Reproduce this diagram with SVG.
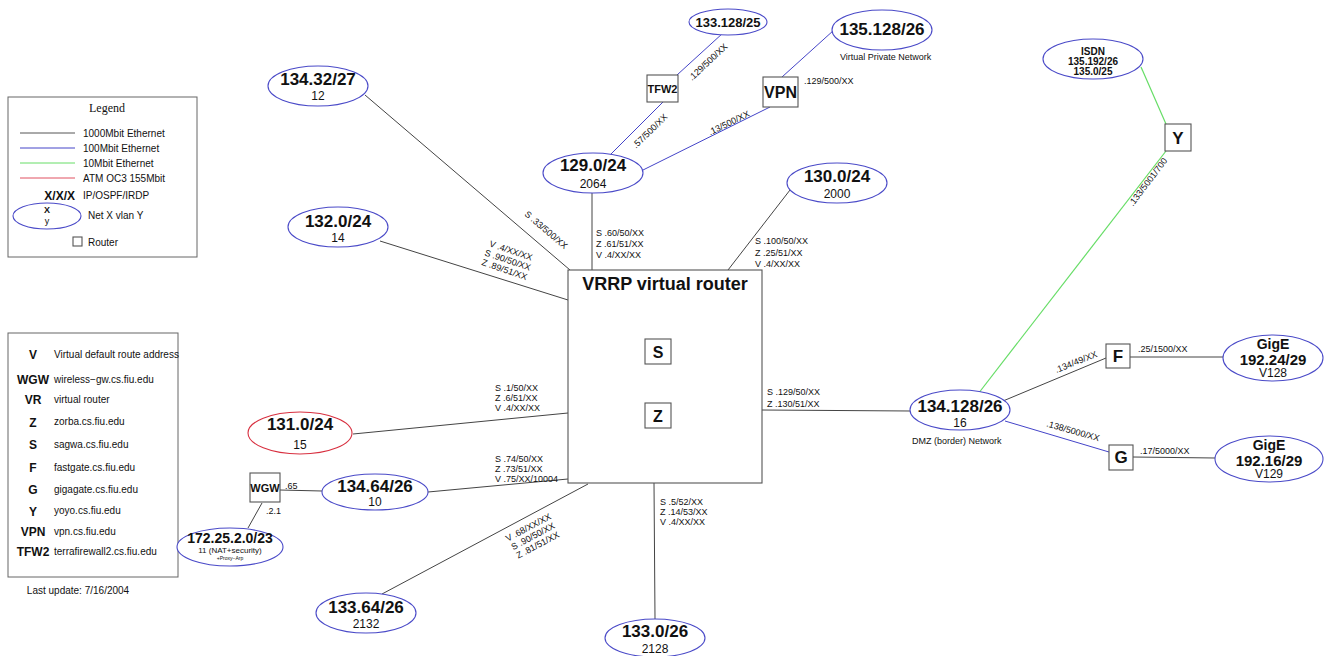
<svg xmlns="http://www.w3.org/2000/svg" width="1337" height="656" viewBox="0 0 1337 656">
<style>
text{font-family:"Liberation Sans",Arial,sans-serif;fill:#111}
.b{font-weight:bold}
.big{font-size:17px;font-weight:bold;text-anchor:middle}
.sub{font-size:12px;text-anchor:middle}
.lbl{font-size:9px}
.lg{font-size:10px}
.net{fill:#fff;stroke:#4a4ac8;stroke-width:1.1}
.red{fill:#fff;stroke:#d83040;stroke-width:1.1}
.rt{fill:#fff;stroke:#555;stroke-width:1.1}
.g{stroke:#444;stroke-width:1;fill:none}
.bl{stroke:#4444c8;stroke-width:1;fill:none}
.gr{stroke:#66dd66;stroke-width:1.2;fill:none}
.leg{fill:#fff;stroke:#666;stroke-width:1}
</style>
<rect width="1337" height="656" fill="#fff"/>
<g id="connectors">
<line class="g" x1="365" y1="95" x2="570" y2="270"/>
<line class="g" x1="380" y1="241" x2="568" y2="300"/>
<line class="g" x1="592" y1="192" x2="592" y2="270"/>
<line class="g" x1="790" y1="190" x2="728" y2="270"/>
<line class="bl" x1="723" y1="33" x2="677" y2="75"/>
<line class="bl" x1="663" y1="102" x2="610" y2="155"/>
<line class="bl" x1="782" y1="77" x2="834" y2="30"/>
<line class="bl" x1="770" y1="107" x2="643" y2="170"/>
<line class="gr" x1="1141" y1="67" x2="1166" y2="124"/>
<line class="gr" x1="1166" y1="151" x2="978" y2="394"/>
<line class="g" x1="762" y1="410" x2="911" y2="411"/>
<line class="g" x1="1003" y1="401" x2="1106" y2="358"/>
<line class="g" x1="1130" y1="357" x2="1223" y2="357"/>
<line class="bl" x1="1005" y1="421" x2="1109" y2="452"/>
<line class="g" x1="1133" y1="457" x2="1215" y2="458"/>
<line class="g" x1="353" y1="434" x2="568" y2="413"/>
<line class="g" x1="280" y1="490" x2="322" y2="491"/>
<line class="g" x1="428" y1="492" x2="568" y2="479"/>
<line class="g" x1="262" y1="503" x2="248" y2="528"/>
<line class="g" x1="382" y1="594" x2="588" y2="484"/>
<line class="g" x1="654" y1="483" x2="655" y2="619"/>
<text class="lbl" transform="translate(546,230) rotate(40.5)" text-anchor="middle" dy="3">S .33/500/XX</text>
<g transform="translate(507,262) rotate(19)">
<text class="lbl" text-anchor="middle" y="-9">V .4/XX/XX</text>
<text class="lbl" text-anchor="middle" y="1">S .90/50/XX</text>
<text class="lbl" text-anchor="middle" y="11">Z .89/51/XX</text>
</g>
<text class="lbl" x="596" y="236">S .60/50/XX</text>
<text class="lbl" x="596" y="247">Z .61/51/XX</text>
<text class="lbl" x="596" y="258">V .4/XX/XX</text>
<text class="lbl" x="755" y="244">S .100/50/XX</text>
<text class="lbl" x="755" y="256">Z .25/51/XX</text>
<text class="lbl" x="755" y="267">V .4/XX/XX</text>
<text class="lbl" transform="translate(708,62) rotate(-43)" text-anchor="middle" dy="3">.129/500/XX</text>
<text class="lbl" transform="translate(650,131) rotate(-44)" text-anchor="middle" dy="3">.57/500/XX</text>
<text class="lbl" transform="translate(729,123) rotate(-26)" text-anchor="middle" dy="3">.13/500/XX</text>
<text class="lbl" x="804" y="84">.129/500/XX</text>
<text class="lbl" transform="translate(1148,182) rotate(-53)" text-anchor="middle" dy="3">.133/5001/700</text>
<text class="lbl" x="767" y="395">S .129/50/XX</text>
<text class="lbl" x="767" y="407">Z .130/51/XX</text>
<text class="lbl" transform="translate(1076,362) rotate(-22)" text-anchor="middle" dy="3">.134/49/XX</text>
<text class="lbl" x="1138" y="352">.25/1500/XX</text>
<text class="lbl" transform="translate(1073,431) rotate(16)" text-anchor="middle" dy="3">.138/5000/XX</text>
<text class="lbl" x="1140" y="454">.17/5000/XX</text>
<text class="lbl" x="495" y="391">S .1/50/XX</text>
<text class="lbl" x="495" y="401">Z .6/51/XX</text>
<text class="lbl" x="495" y="411">V .4/XX/XX</text>
<text class="lbl" x="495" y="462">S .74/50/XX</text>
<text class="lbl" x="495" y="472">Z .73/51/XX</text>
<text class="lbl" x="495" y="482">V .75/XX/10004</text>
<text class="lbl" x="285" y="489">.65</text>
<text class="lbl" x="266" y="514">.2.1</text>
<g transform="translate(534,538) rotate(-28)">
<text class="lbl" text-anchor="middle" y="-9">V .68/XX/XX</text>
<text class="lbl" text-anchor="middle" y="1">S .90/50/XX</text>
<text class="lbl" text-anchor="middle" y="11">Z .81/51/XX</text>
</g>
<text class="lbl" x="660" y="505">S .5/52/XX</text>
<text class="lbl" x="660" y="515">Z .14/53/XX</text>
<text class="lbl" x="660" y="525">V .4/XX/XX</text>
</g>
<g id="legend">
<rect class="leg" x="8" y="97" width="189" height="160"/>
<text x="107" y="112" text-anchor="middle" style="font-family:'Liberation Serif',serif;font-size:12px">Legend</text>
<line x1="20" y1="133" x2="75" y2="133" stroke="#555"/>
<line x1="20" y1="148" x2="75" y2="148" stroke="#4444c8"/>
<line x1="20" y1="163" x2="75" y2="163" stroke="#66dd66"/>
<line x1="20" y1="178" x2="75" y2="178" stroke="#e05060"/>
<text class="lg" x="83" y="137">1000Mbit Ethernet</text>
<text class="lg" x="83" y="152">100Mbit Ethernet</text>
<text class="lg" x="83" y="167">10Mbit Ethernet</text>
<text class="lg" x="83" y="182">ATM OC3 155Mbit</text>
<text class="b" x="75" y="200" text-anchor="end" style="font-size:12px">X/X/X</text>
<text class="lg" x="83" y="199">IP/OSPF/IRDP</text>
<ellipse class="net" cx="47" cy="216" rx="34" ry="13"/>
<text class="b" x="47" y="213" text-anchor="middle" style="font-size:9px">X</text>
<text x="47" y="224" text-anchor="middle" style="font-size:9px">y</text>
<text class="lg" x="88" y="219">Net X vlan Y</text>
<rect class="rt" x="73" y="237" width="9" height="9"/>
<text class="lg" x="88" y="246">Router</text>
</g>
<g id="abbrev">
<rect class="leg" x="8" y="333" width="170" height="244"/>
<g class="b" style="font-size:12px" text-anchor="middle">
<text x="33" y="359">V</text>
<text x="33" y="384">WGW</text>
<text x="33" y="404">VR</text>
<text x="33" y="427">Z</text>
<text x="33" y="449">S</text>
<text x="33" y="472">F</text>
<text x="33" y="494">G</text>
<text x="33" y="516">Y</text>
<text x="33" y="536">VPN</text>
<text x="33" y="556">TFW2</text>
</g>
<text class="lg" x="54" y="358">Virtual default route address</text>
<text class="lg" x="54" y="383">wireless−gw.cs.fiu.edu</text>
<text class="lg" x="54" y="403">virtual router</text>
<text class="lg" x="54" y="425">zorba.cs.fiu.edu</text>
<text class="lg" x="54" y="448">sagwa.cs.fiu.edu</text>
<text class="lg" x="54" y="471">fastgate.cs.fiu.edu</text>
<text class="lg" x="54" y="493">gigagate.cs.fiu.edu</text>
<text class="lg" x="54" y="514">yoyo.cs.fiu.edu</text>
<text class="lg" x="54" y="535">vpn.cs.fiu.edu</text>
<text class="lg" x="54" y="555">terrafirewall2.cs.fiu.edu</text>
<text class="lg" x="78" y="594" text-anchor="middle">Last update: 7/16/2004</text>
</g>
<g id="vrrp">
<rect class="rt" x="568" y="270" width="194" height="213"/>
<text class="b" x="665" y="290" text-anchor="middle" style="font-size:18px">VRRP virtual router</text>
</g>
<g id="S"><rect class="rt" x="645" y="339" width="26" height="25"/><text class="b" x="658" y="358" text-anchor="middle" style="font-size:16px">S</text></g>
<g id="Z"><rect class="rt" x="645" y="403" width="26" height="25"/><text class="b" x="658" y="422" text-anchor="middle" style="font-size:16px">Z</text></g>
<g id="n134_32"><ellipse class="net" cx="318" cy="86" rx="50" ry="20"/><text class="big" x="318" y="85">134.32/27</text><text class="sub" x="318" y="100">12</text></g>
<g id="n132_0"><ellipse class="net" cx="338" cy="227" rx="50" ry="20"/><text class="big" x="338" y="227">132.0/24</text><text class="sub" x="338" y="242">14</text></g>
<g id="n129_0"><ellipse class="net" cx="593" cy="173" rx="50" ry="20"/><text class="big" x="593" y="171">129.0/24</text><text class="sub" x="593" y="188">2064</text></g>
<g id="n130_0"><ellipse class="net" cx="837" cy="183" rx="50" ry="20"/><text class="big" x="837" y="182">130.0/24</text><text class="sub" x="837" y="198">2000</text></g>
<g id="n133_128"><ellipse class="net" cx="728" cy="22" rx="39" ry="13"/><text class="b" x="728" y="27" text-anchor="middle" style="font-size:13px">133.128/25</text></g>
<g id="TFW2"><rect class="rt" x="647" y="75" width="31" height="27"/><text class="b" x="662.5" y="93" text-anchor="middle" style="font-size:11px">TFW2</text></g>
<g id="VPN"><rect class="rt" x="763" y="77" width="35" height="30"/><text class="b" x="780.5" y="98" text-anchor="middle" style="font-size:16px">VPN</text></g>
<g id="n135_128"><ellipse class="net" cx="882" cy="30" rx="50" ry="20"/><text class="big" x="882" y="35">135.128/26</text><text class="lbl" x="840" y="60">Virtual Private Network</text></g>
<g id="ISDN"><ellipse class="net" cx="1093" cy="59" rx="50" ry="20"/>
<text class="b" x="1093" y="55" text-anchor="middle" style="font-size:10px">ISDN</text>
<text class="b" x="1093" y="65" text-anchor="middle" style="font-size:10px">135.192/26</text>
<text class="b" x="1093" y="75" text-anchor="middle" style="font-size:10px">135.0/25</text></g>
<g id="Y"><rect class="rt" x="1165" y="124" width="26" height="27"/><text class="b" x="1178" y="144" text-anchor="middle" style="font-size:17px">Y</text></g>
<g id="n134_128"><ellipse class="net" cx="960" cy="410" rx="50" ry="20"/><text class="big" x="960" y="412">134.128/26</text><text class="sub" x="960" y="427">16</text><text class="lbl" x="912" y="444">DMZ (border) Network</text></g>
<g id="F"><rect class="rt" x="1106" y="344" width="24" height="24"/><text class="b" x="1118" y="362" text-anchor="middle" style="font-size:17px">F</text></g>
<g id="G"><rect class="rt" x="1109" y="445" width="24" height="25"/><text class="b" x="1121" y="463" text-anchor="middle" style="font-size:17px">G</text></g>
<g id="gige24"><ellipse class="net" cx="1273" cy="358" rx="50" ry="23"/>
<text class="b" x="1273" y="349" text-anchor="middle" style="font-size:14px">GigE</text>
<text class="b" x="1273" y="365" text-anchor="middle" style="font-size:15px">192.24/29</text>
<text class="sub" x="1273" y="377">V128</text></g>
<g id="gige16"><ellipse class="net" cx="1269" cy="459" rx="54" ry="23"/>
<text class="b" x="1269" y="450" text-anchor="middle" style="font-size:14px">GigE</text>
<text class="b" x="1269" y="466" text-anchor="middle" style="font-size:15px">192.16/29</text>
<text class="sub" x="1269" y="478">V129</text></g>
<g id="n131_0"><ellipse class="red" cx="300" cy="433" rx="52" ry="21"/><text class="big" x="300" y="430">131.0/24</text><text class="sub" x="300" y="449">15</text></g>
<g id="WGW"><rect class="rt" x="250" y="473" width="30" height="29"/><text class="b" x="265" y="492" text-anchor="middle" style="font-size:11px">WGW</text></g>
<g id="n134_64"><ellipse class="net" cx="375" cy="492" rx="53" ry="18"/><text class="big" x="375" y="492">134.64/26</text><text class="sub" x="375" y="506">10</text></g>
<g id="n172_25"><ellipse class="net" cx="230" cy="547" rx="53" ry="19"/>
<text class="b" x="230" y="543" text-anchor="middle" style="font-size:14px">172.25.2.0/23</text>
<text x="230" y="553" text-anchor="middle" style="font-size:8px">11 (NAT+security)</text>
<text x="230" y="560" text-anchor="middle" style="font-size:5px">+Proxy−Arp</text></g>
<g id="n133_64"><ellipse class="net" cx="366" cy="613" rx="50" ry="20"/><text class="big" x="366" y="613">133.64/26</text><text class="sub" x="366" y="628">2132</text></g>
<g id="n133_0"><ellipse class="net" cx="655" cy="638" rx="50" ry="19"/><text class="big" x="655" y="637">133.0/26</text><text class="sub" x="655" y="653">2128</text></g>
</svg>
